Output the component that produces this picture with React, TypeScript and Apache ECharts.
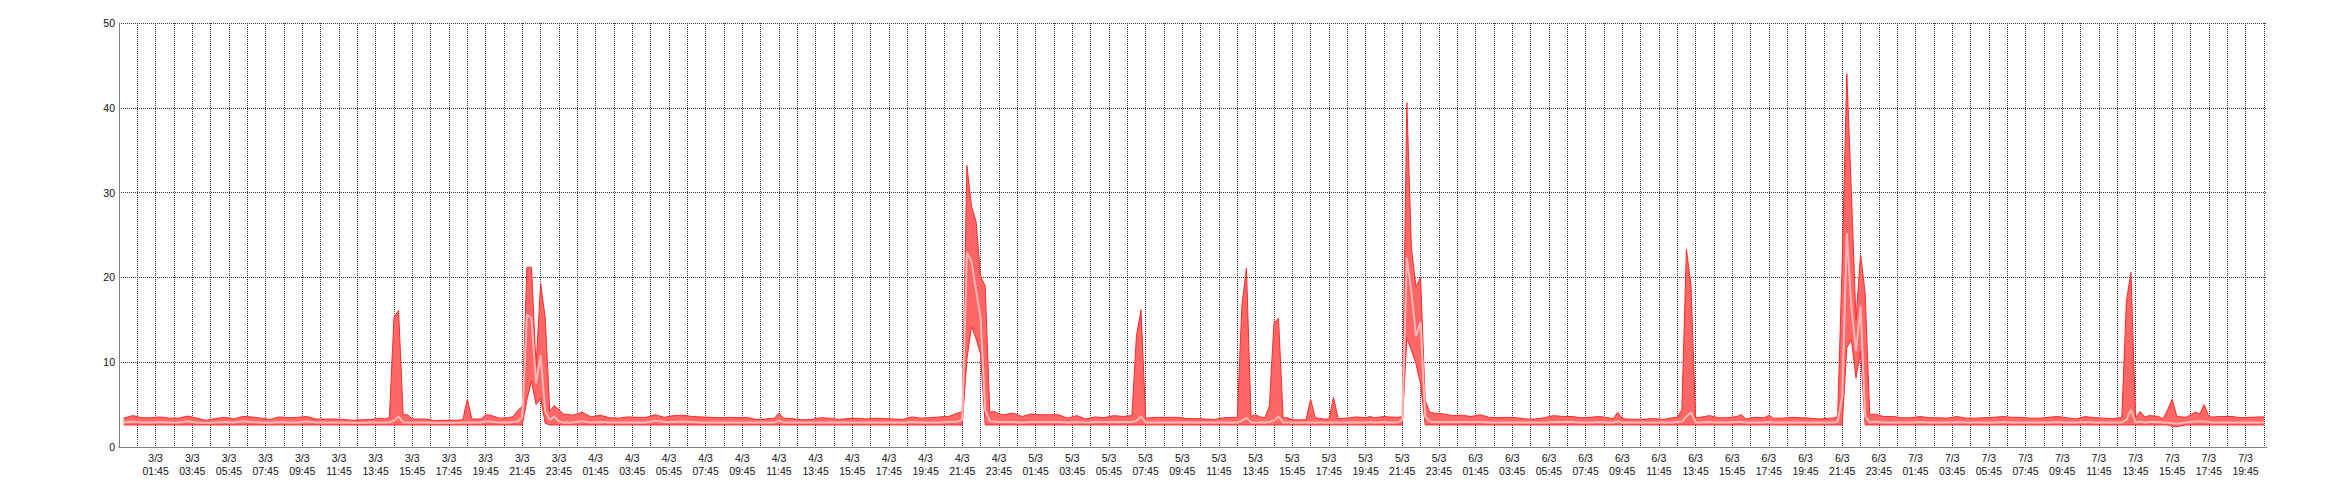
import React, { useEffect, useRef } from 'react';
import * as echarts from 'echarts';

// Sample times: hours since 3/3 00:00
const hours: number[] = [
  // 3/3
  0, 0.5, 1, 1.5, 2, 2.5, 3, 3.5, 4, 4.5, 5, 5.5, 6, 6.5, 7, 7.5, 8, 8.5, 9, 9.5, 10, 10.5, 11, 11.5, 12, 12.5, 13, 13.5, 14,
  14.25, 14.5, 14.75, 15, 15.25, 15.5, 15.75, 16,
  16.5, 17, 17.5, 18, 18.5,
  18.75, 19, 19.5, 19.75, 20, 20.5, 21,
  21.25, 21.5, 21.75, 22, 22.25, 22.5, 22.75, 23, 23.25, 23.5, 23.75,
  // 4/3
  24, 24.5, 25, 25.5, 26, 26.5, 27, 27.5, 28, 28.5, 29, 29.5, 30, 30.5, 31, 31.5, 32, 32.5, 33, 33.5, 34, 34.5, 35, 35.5,
  35.75,
  36, 36.5, 37, 37.5, 38, 38.5, 39, 39.5, 40, 40.5, 41, 41.5, 42, 42.5, 43, 43.5, 44, 44.5, 45, 45.5,
  45.75, 46, 46.25, 46.5, 46.75, 47, 47.25, 47.5, 47.75,
  // 5/3
  48, 48.5, 49, 49.5, 50, 50.5, 51, 51.5, 52, 52.5, 53, 53.5, 54, 54.5, 55,
  55.25, 55.5, 55.75, 56,
  56.5, 57, 57.5, 58, 58.5, 59, 59.5, 60, 60.5,
  60.75, 61, 61.25, 61.5, 61.75, 62, 62.25, 62.5, 62.75, 63, 63.25, 63.5, 63.75, 64,
  64.5, 64.75, 65, 65.5, 65.75, 66, 66.25,
  66.75, 67.25, 67.75, 68, 68.25, 68.75, 69, 69.5,
  69.75, 70, 70.25, 70.5, 70.75, 71, 71.25, 71.5, 71.75,
  // 6/3
  72, 72.5, 73, 73.5, 74, 74.5, 75, 75.5, 76, 76.5, 77, 77.5, 78, 78.5, 79, 79.5, 80, 80.5, 81,
  81.25, 81.5, 81.75, 82,
  82.5, 83, 83.5, 84, 84.5,
  84.75, 85, 85.25, 85.5, 85.75, 86,
  86.5, 87, 87.5, 88, 88.25, 88.5, 89, 89.5, 89.75, 90,
  90.5, 91, 91.5, 92, 92.5, 93, 93.25, 93.5,
  93.75, 94, 94.25, 94.5, 94.75, 95, 95.25, 95.5,
  // 7/3
  96, 96.5, 97, 97.5, 98, 98.5, 99, 99.5, 100, 100.5, 101, 101.5, 102, 102.5, 103, 103.5, 104, 104.5, 105, 105.5, 106, 106.5, 107, 107.5, 108, 108.5, 109,
  109.25, 109.5, 109.75, 110, 110.25, 110.5,
  111, 111.25, 111.5, 111.75, 112, 112.5,
  113, 113.25, 113.5, 113.75, 114,
  114.5, 115, 115.5, 116, 116.5, 116.75,
];

const maxLoad: number[] = [
  // 3/3
  3.4, 3.7, 3.45, 3.45, 3.55, 3.4, 3.4, 3.65, 3.4, 3.15, 3.35, 3.5, 3.3, 3.6, 3.55, 3.4, 3.25, 3.55, 3.45, 3.5, 3.6, 3.3, 3.3, 3.3, 3.25, 3.15, 3.2, 3.25, 3.4,
  3.3, 3.5, 15.3, 16.1, 3.8, 3.8, 3.3, 3.3,
  3.3, 3.1, 3.15, 3.15, 3.2,
  5.65, 3.3, 3.3, 3.8, 3.75, 3.4, 3.45,
  3.6, 4.3, 4.8, 21.2, 21.2, 9.5, 19.3, 15.2, 4.2, 4.9, 4.4,
  // 4/3
  3.9, 3.75, 4.1, 3.55, 3.75, 3.45, 3.4, 3.55, 3.5, 3.5, 3.8, 3.5, 3.7, 3.75, 3.6, 3.55, 3.5, 3.45, 3.5, 3.45, 3.5, 3.25, 3.3, 3.4,
  4.0,
  3.4, 3.35, 3.2, 3.25, 3.45, 3.4, 3.25, 3.35, 3.4, 3.3, 3.4, 3.35, 3.3, 3.25, 3.55, 3.4, 3.45, 3.55, 3.6, 4.0,
  4.2, 33.2, 28.4, 26.6, 20.1, 19.0, 4.1, 4.2, 3.9,
  // 5/3
  3.8, 4.0, 3.6, 3.9, 3.8, 3.8, 3.8, 3.4, 3.7, 3.3, 3.55, 3.45, 3.7, 3.6, 3.7,
  13.1, 16.2, 3.4, 3.45,
  3.5, 3.5, 3.5, 3.35, 3.35, 3.3, 3.25, 3.45, 3.5,
  3.5, 16.6, 21.1, 3.6, 3.8, 3.55, 3.45, 4.8, 14.6, 15.2, 3.45, 3.45, 3.2, 3.2,
  3.2, 5.65, 3.45, 3.3, 3.3, 5.85, 3.35,
  3.4, 3.55, 3.45, 3.6, 3.45, 3.6, 3.55, 3.5,
  3.6, 40.6, 23.4, 18.9, 20.0, 5.5, 4.1, 4.0, 3.95,
  // 6/3
  3.9, 3.7, 3.75, 3.6, 3.8, 3.5, 3.45, 3.5, 3.45, 3.3, 3.3, 3.45, 3.7, 3.6, 3.6, 3.45, 3.5, 3.6, 3.45,
  3.3, 4.1, 3.35, 3.3,
  3.25, 3.3, 3.35, 3.25, 3.45,
  3.5, 4.4, 23.3, 19.1, 3.45, 3.5,
  3.7, 3.45, 3.45, 3.6, 3.8, 3.3, 3.5, 3.45, 3.75, 3.4,
  3.4, 3.5, 3.45, 3.4, 3.3, 3.4, 3.4, 3.6,
  22.0, 44.0, 30.0, 15.0, 22.7, 18.2, 3.8, 3.9,
  // 7/3
  3.6, 3.6, 3.45, 3.45, 3.6, 3.45, 3.45, 3.4, 3.6, 3.4, 3.4, 3.45, 3.5, 3.6, 3.5, 3.5, 3.4, 3.4, 3.5, 3.6, 3.45, 3.3, 3.6, 3.45, 3.4, 3.35, 3.45,
  17.2, 20.6, 3.45, 4.2, 3.55, 3.7,
  3.6, 3.3, 4.4, 5.65, 3.6, 3.5,
  4.1, 3.9, 5.0, 3.55, 3.55,
  3.6, 3.6, 3.45, 3.5, 3.55, 3.55,
];

const avgLoad: number[] = [
  // 3/3
  2.9, 3.0, 2.9, 2.9, 2.95, 2.9, 2.9, 3.05, 2.9, 2.85, 2.9, 2.95, 2.9, 3.05, 2.95, 2.9, 2.85, 2.95, 2.9, 2.9, 3.0, 2.9, 2.9, 2.9, 2.9, 2.85, 2.85, 2.9, 2.9,
  2.9, 2.9, 3.1, 3.6, 2.9, 2.9, 2.9, 2.9,
  2.9, 2.85, 2.85, 2.85, 2.9,
  2.9, 2.9, 2.9, 3.0, 3.0, 2.9, 2.9,
  2.95, 3.0, 3.5, 15.6, 15.2, 7.5, 10.8, 4.2, 3.2, 3.6, 3.0,
  // 4/3
  2.9, 2.9, 3.05, 2.9, 2.95, 2.9, 2.9, 2.9, 2.9, 2.9, 3.1, 2.95, 2.95, 3.0, 2.95, 2.9, 2.9, 2.9, 2.9, 2.9, 2.9, 2.9, 2.9, 2.9,
  3.1,
  2.9, 2.9, 2.9, 2.9, 2.9, 2.9, 2.9, 2.9, 2.9, 2.9, 2.9, 2.9, 2.9, 2.85, 2.95, 2.9, 2.9, 2.9, 2.95, 3.0,
  3.2, 22.9, 21.9, 18.5, 15.2, 4.3, 3.05, 3.0, 2.95,
  // 5/3
  2.95, 2.95, 2.9, 2.95, 2.95, 2.95, 2.95, 2.9, 2.95, 2.9, 2.95, 2.95, 2.95, 2.95, 2.95,
  3.1, 3.6, 2.9, 2.9,
  2.9, 2.9, 2.9, 2.9, 2.9, 2.9, 2.9, 2.9, 2.9,
  2.9, 3.1, 3.45, 2.9, 2.9, 2.9, 2.9, 2.95, 3.1, 3.6, 2.9, 2.9, 2.9, 2.9,
  2.9, 2.9, 2.9, 2.9, 2.9, 2.9, 2.9,
  2.9, 2.9, 2.9, 2.95, 2.9, 2.95, 2.9, 2.9,
  3.2, 22.3, 18.2, 13.1, 14.7, 3.6, 3.0, 2.95, 2.95,
  // 6/3
  2.95, 2.95, 2.95, 2.95, 2.95, 2.9, 2.9, 2.9, 2.9, 2.9, 2.9, 2.9, 2.95, 2.95, 2.95, 2.9, 2.9, 2.95, 2.9,
  2.9, 3.0, 2.9, 2.9,
  2.9, 2.9, 2.9, 2.9, 2.9,
  2.95, 3.0, 3.6, 4.1, 2.9, 2.9,
  2.95, 2.9, 2.9, 2.95, 2.95, 2.9, 2.9, 2.9, 2.95, 2.9,
  2.9, 2.9, 2.9, 2.9, 2.9, 2.9, 2.9, 2.95,
  6.0, 25.2, 16.5, 11.3, 16.6, 3.6, 2.9, 3.0,
  // 7/3
  2.9, 2.9, 2.9, 2.9, 2.95, 2.9, 2.9, 2.9, 2.95, 2.9, 2.9, 2.9, 2.9, 2.95, 2.9, 2.9, 2.9, 2.9, 2.9, 2.95, 2.9, 2.9, 2.95, 2.9, 2.9, 2.9, 2.9,
  3.2, 4.4, 2.9, 3.0, 2.9, 2.95,
  2.95, 2.9, 2.9, 2.8, 2.75, 2.9,
  3.0, 3.0, 3.0, 2.95, 2.9,
  2.9, 2.9, 2.9, 2.9, 2.9, 2.9,
];

const minLoad: number[] = [
  // 3/3
  2.6, 2.6, 2.6, 2.6, 2.6, 2.6, 2.6, 2.6, 2.6, 2.6, 2.6, 2.6, 2.6, 2.6, 2.6, 2.6, 2.6, 2.6, 2.6, 2.6, 2.6, 2.6, 2.6, 2.6, 2.6, 2.6, 2.6, 2.6, 2.6,
  2.6, 2.6, 2.6, 2.6, 2.6, 2.6, 2.6, 2.6,
  2.6, 2.6, 2.6, 2.6, 2.6,
  2.6, 2.6, 2.6, 2.6, 2.6, 2.6, 2.6,
  2.6, 2.6, 2.6, 5.5, 7.8, 5.0, 5.7, 2.8, 2.6, 2.6, 2.6,
  // 4/3
  2.6, 2.6, 2.6, 2.6, 2.6, 2.6, 2.6, 2.6, 2.6, 2.6, 2.6, 2.6, 2.6, 2.6, 2.6, 2.6, 2.6, 2.6, 2.6, 2.6, 2.6, 2.6, 2.6, 2.6,
  2.6,
  2.6, 2.6, 2.6, 2.6, 2.6, 2.6, 2.6, 2.6, 2.6, 2.6, 2.6, 2.6, 2.6, 2.6, 2.6, 2.6, 2.6, 2.6, 2.6, 2.6,
  2.6, 10.3, 14.2, 12.8, 10.9, 2.6, 2.6, 2.6, 2.6,
  // 5/3
  2.6, 2.6, 2.6, 2.6, 2.6, 2.6, 2.6, 2.6, 2.6, 2.6, 2.6, 2.6, 2.6, 2.6, 2.6,
  2.6, 2.6, 2.6, 2.6,
  2.6, 2.6, 2.6, 2.6, 2.6, 2.6, 2.6, 2.6, 2.6,
  2.6, 2.6, 2.6, 2.6, 2.6, 2.6, 2.6, 2.6, 2.6, 2.6, 2.6, 2.6, 2.6, 2.6,
  2.6, 2.6, 2.6, 2.6, 2.6, 2.6, 2.6,
  2.6, 2.6, 2.6, 2.6, 2.6, 2.6, 2.6, 2.6,
  2.6, 12.8, 11.4, 9.8, 7.4, 2.6, 2.6, 2.6, 2.6,
  // 6/3
  2.6, 2.6, 2.6, 2.6, 2.6, 2.6, 2.6, 2.6, 2.6, 2.6, 2.6, 2.6, 2.6, 2.6, 2.6, 2.6, 2.6, 2.6, 2.6,
  2.6, 2.6, 2.6, 2.6,
  2.6, 2.6, 2.6, 2.6, 2.6,
  2.6, 2.6, 2.6, 2.6, 2.6, 2.6,
  2.6, 2.6, 2.6, 2.6, 2.6, 2.6, 2.6, 2.6, 2.6, 2.6,
  2.6, 2.6, 2.6, 2.6, 2.6, 2.6, 2.6, 2.6,
  2.6, 11.7, 12.7, 8.1, 11.3, 2.6, 2.6, 2.6,
  // 7/3
  2.6, 2.6, 2.6, 2.6, 2.6, 2.6, 2.6, 2.6, 2.6, 2.6, 2.6, 2.6, 2.6, 2.6, 2.6, 2.6, 2.6, 2.6, 2.6, 2.6, 2.6, 2.6, 2.6, 2.6, 2.6, 2.6, 2.6,
  2.6, 2.6, 2.6, 2.6, 2.6, 2.6,
  2.6, 2.6, 2.6, 2.45, 2.4, 2.6,
  2.6, 2.6, 2.6, 2.6, 2.6,
  2.6, 2.6, 2.6, 2.6, 2.6, 2.6,
];

// Tick labels, one every two hours, starting at axis hour 2 (3/3 01:45)
const xTickLabels: string[] = [
  '3/3\n01:45', '3/3\n03:45', '3/3\n05:45', '3/3\n07:45', '3/3\n09:45', '3/3\n11:45',
  '3/3\n13:45', '3/3\n15:45', '3/3\n17:45', '3/3\n19:45', '3/3\n21:45', '3/3\n23:45',
  '4/3\n01:45', '4/3\n03:45', '4/3\n05:45', '4/3\n07:45', '4/3\n09:45', '4/3\n11:45',
  '4/3\n13:45', '4/3\n15:45', '4/3\n17:45', '4/3\n19:45', '4/3\n21:45', '4/3\n23:45',
  '5/3\n01:45', '5/3\n03:45', '5/3\n05:45', '5/3\n07:45', '5/3\n09:45', '5/3\n11:45',
  '5/3\n13:45', '5/3\n15:45', '5/3\n17:45', '5/3\n19:45', '5/3\n21:45', '5/3\n23:45',
  '6/3\n01:45', '6/3\n03:45', '6/3\n05:45', '6/3\n07:45', '6/3\n09:45', '6/3\n11:45',
  '6/3\n13:45', '6/3\n15:45', '6/3\n17:45', '6/3\n19:45', '6/3\n21:45', '6/3\n23:45',
  '7/3\n01:45', '7/3\n03:45', '7/3\n05:45', '7/3\n07:45', '7/3\n09:45', '7/3\n11:45',
  '7/3\n13:45', '7/3\n15:45', '7/3\n17:45', '7/3\n19:45',
];

const yMin = 0;
const yMax = 50;
const yStep = 10;

// The x axis counts hours from 2/3 23:45; 3/3 00:00 lies 0.25 h after it.
const AXIS_OFFSET = 0.25;
const X_MAX = 117.17;
const HOUR_MS = 3600000;

const FONT = '"Liberation Sans", Arial, sans-serif';
const GRID_COLOR = '#3a3a3a';

function xLabel(v: number): string {
  const k = Math.round(v);
  if (Math.abs(v - k) > 1e-6) return '';
  if (k < 2 || k % 2 !== 0) return '';
  const idx = k / 2 - 1;
  return xTickLabels[idx] ?? '';
}

export default function App() {
  const ref = useRef<HTMLDivElement>(null);

  useEffect(() => {
    if (!ref.current) return;
    const chart = echarts.init(ref.current, undefined, { renderer: 'svg' });

    // Series live on a hidden time axis (so stacking happens on the y values),
    // the visible value axis supplies the hourly grid and labels over the same span.
    const toMs = (h: number) => (h + AXIS_OFFSET) * HOUR_MS;
    const minSeries = hours.map((h, i) => [toMs(h), minLoad[i]]);
    const rangeSeries = hours.map((h, i) => [toMs(h), +(maxLoad[i] - minLoad[i]).toFixed(3)]);
    const avgSeries = hours.map((h, i) => [toMs(h), avgLoad[i]]);

    chart.setOption({
      animation: false,
      backgroundColor: '#ffffff',
      grid: { left: 119, right: 73, top: 23, bottom: 53, containLabel: false },
      xAxis: [
        {
          type: 'time',
          show: false,
          min: 0,
          max: X_MAX * HOUR_MS,
        },
        {
          type: 'value',
          position: 'bottom',
          min: 0,
          max: X_MAX,
          interval: 1,
          axisLine: { show: true, onZero: false, lineStyle: { color: '#808080', width: 1 } },
          axisTick: { show: false },
          axisLabel: {
            formatter: xLabel,
            color: '#111',
            fontFamily: FONT,
            fontSize: 10.5,
            lineHeight: 12.5,
            margin: 5,
            showMinLabel: false,
            showMaxLabel: false,
          },
          splitLine: {
            show: true,
            showMinLine: false,
            showMaxLine: false,
            lineStyle: { type: 'dotted', color: GRID_COLOR, width: 1 },
          },
        },
      ],
      yAxis: {
        type: 'value',
        min: yMin,
        max: yMax,
        interval: yStep,
        axisLine: { show: true, lineStyle: { color: '#808080', width: 1 } },
        axisTick: { show: false },
        axisLabel: { color: '#111', fontFamily: FONT, fontSize: 10.5, margin: 4 },
        splitLine: { show: true, lineStyle: { type: 'dotted', color: GRID_COLOR, width: 1 } },
      },
      series: [
        {
          name: 'min',
          type: 'line',
          xAxisIndex: 0,
          stack: 'band',
          data: minSeries,
          symbol: 'none',
          silent: true,
          z: 3,
          lineStyle: { color: '#ff2a2a', width: 1 },
        },
        {
          name: 'max',
          type: 'line',
          xAxisIndex: 0,
          stack: 'band',
          data: rangeSeries,
          symbol: 'none',
          silent: true,
          z: 2,
          lineStyle: { color: '#ff2a2a', width: 1 },
          areaStyle: { color: '#ff6666', opacity: 1 },
        },
        {
          name: 'avg',
          type: 'line',
          xAxisIndex: 0,
          data: avgSeries,
          symbol: 'none',
          silent: true,
          z: 4,
          lineStyle: { color: '#ffb8b8', width: 2 },
        },
      ],
    });

    return () => {
      chart.dispose();
    };
  }, []);

  return (
    <div
      ref={ref}
      style={{ position: 'absolute', left: 0, top: 0, width: 2340, height: 500, background: '#fff' }}
    />
  );
}
